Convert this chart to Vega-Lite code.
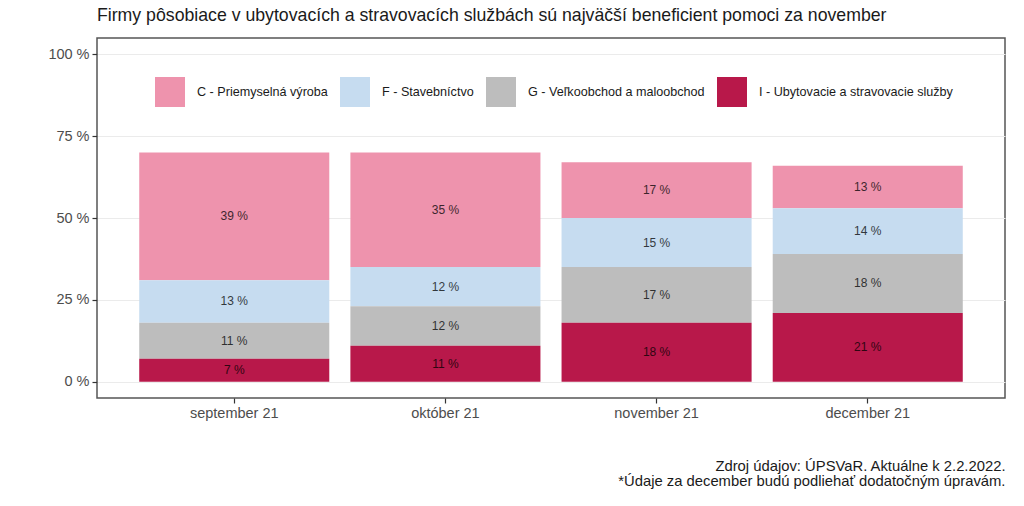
{
  "$schema": "https://vega.github.io/schema/vega-lite/v6.json",
  "width": 908,
  "height": 360,
  "autosize": {"type": "none"},
  "padding": {"left": 97, "top": 38, "right": 19, "bottom": 108},
  "background": "white",
  "title": {
    "text": "Firmy pôsobiace v ubytovacích a stravovacích službách sú najväčší beneficient pomoci za november",
    "anchor": "start",
    "frame": "group",
    "font": "Liberation Sans",
    "fontSize": 17.7,
    "fontWeight": "normal",
    "color": "#1a1a1a",
    "baseline": "alphabetic",
    "offset": -1
  },
  "config": {
    "view": {"stroke": "#555555", "strokeWidth": 1.5},
    "font": "Liberation Sans"
  },
  "data": {
    "values": [
      {"mesiac": "september 21", "kat": "C - Priemyselná výroba", "hodnota": 39},
      {"mesiac": "september 21", "kat": "F - Stavebníctvo", "hodnota": 13},
      {"mesiac": "september 21", "kat": "G - Veľkoobchod a maloobchod", "hodnota": 11},
      {"mesiac": "september 21", "kat": "I - Ubytovacie a stravovacie služby", "hodnota": 7},
      {"mesiac": "október 21", "kat": "C - Priemyselná výroba", "hodnota": 35},
      {"mesiac": "október 21", "kat": "F - Stavebníctvo", "hodnota": 12},
      {"mesiac": "október 21", "kat": "G - Veľkoobchod a maloobchod", "hodnota": 12},
      {"mesiac": "október 21", "kat": "I - Ubytovacie a stravovacie služby", "hodnota": 11},
      {"mesiac": "november 21", "kat": "C - Priemyselná výroba", "hodnota": 17},
      {"mesiac": "november 21", "kat": "F - Stavebníctvo", "hodnota": 15},
      {"mesiac": "november 21", "kat": "G - Veľkoobchod a maloobchod", "hodnota": 17},
      {"mesiac": "november 21", "kat": "I - Ubytovacie a stravovacie služby", "hodnota": 18},
      {"mesiac": "december 21", "kat": "C - Priemyselná výroba", "hodnota": 13},
      {"mesiac": "december 21", "kat": "F - Stavebníctvo", "hodnota": 14},
      {"mesiac": "december 21", "kat": "G - Veľkoobchod a maloobchod", "hodnota": 18},
      {"mesiac": "december 21", "kat": "I - Ubytovacie a stravovacie služby", "hodnota": 21}
    ]
  },
  "transform": [
    {"stack": "hodnota", "groupby": ["mesiac"], "sort": [{"field": "kat", "order": "descending"}], "as": ["y0", "y1"]},
    {"calculate": "(datum.y0 + datum.y1) / 2", "as": "stred"},
    {"calculate": "datum.hodnota + ' %'", "as": "popis"}
  ],
  "encoding": {
    "x": {
      "field": "mesiac",
      "type": "nominal",
      "sort": null,
      "scale": {"paddingInner": 0.1, "paddingOuter": 0.2},
      "axis": {
        "title": ["Zdroj údajov: ÚPSVaR. Aktuálne k 2.2.2022.", "*Údaje za december budú podliehať dodatočným úpravám."],
        "titleAnchor": "end",
        "titleFontSize": 14.8,
        "titleFontWeight": "normal",
        "titleColor": "#1a1a1a",
        "titlePadding": 39,
        "titleLineHeight": 15,
        "labelAngle": 0,
        "labelFontSize": 14.5,
        "labelColor": "#4d4d4d",
        "labelPadding": 3,
        "tickSize": 5,
        "tickColor": "#333333",
        "tickWidth": 1.2,
        "domain": false,
        "grid": false
      }
    }
  },
  "layer": [
    {
      "mark": {"type": "bar"},
      "encoding": {
        "y": {
          "field": "y0",
          "type": "quantitative",
          "scale": {"domain": [-5, 105], "nice": false, "zero": false},
          "axis": {
            "title": null,
            "values": [0, 25, 50, 75, 100],
            "labelExpr": "datum.value + ' %'",
            "labelFontSize": 14.5,
            "labelColor": "#4d4d4d",
            "labelPadding": 3,
            "tickSize": 5,
            "tickColor": "#333333",
            "tickWidth": 1.2,
            "domain": false,
            "grid": true,
            "gridColor": "#ebebeb",
            "gridWidth": 1
          }
        },
        "y2": {"field": "y1"},
        "color": {
          "field": "kat",
          "type": "nominal",
          "scale": {
            "domain": ["C - Priemyselná výroba", "F - Stavebníctvo", "G - Veľkoobchod a maloobchod", "I - Ubytovacie a stravovacie služby"],
            "range": ["#ee93ad", "#c6dcf0", "#bdbdbd", "#b8184a"]
          },
          "legend": {
            "title": null,
            "orient": "none",
            "legendX": 58,
            "legendY": 39,
            "direction": "horizontal",
            "symbolType": "square",
            "symbolSize": 900,
            "symbolStrokeWidth": 0,
            "symbolOpacity": 1,
            "labelFontSize": 12.6,
            "labelLimit": 400,
            "labelColor": "#1a1a1a",
            "labelOffset": 12,
            "columnPadding": 12,
            "padding": 0
          }
        }
      }
    },
    {
      "mark": {"type": "text", "fontSize": 12, "color": "#000000", "opacity": 0.75},
      "encoding": {
        "y": {"field": "stred", "type": "quantitative"},
        "text": {"field": "popis"}
      }
    }
  ]
}
